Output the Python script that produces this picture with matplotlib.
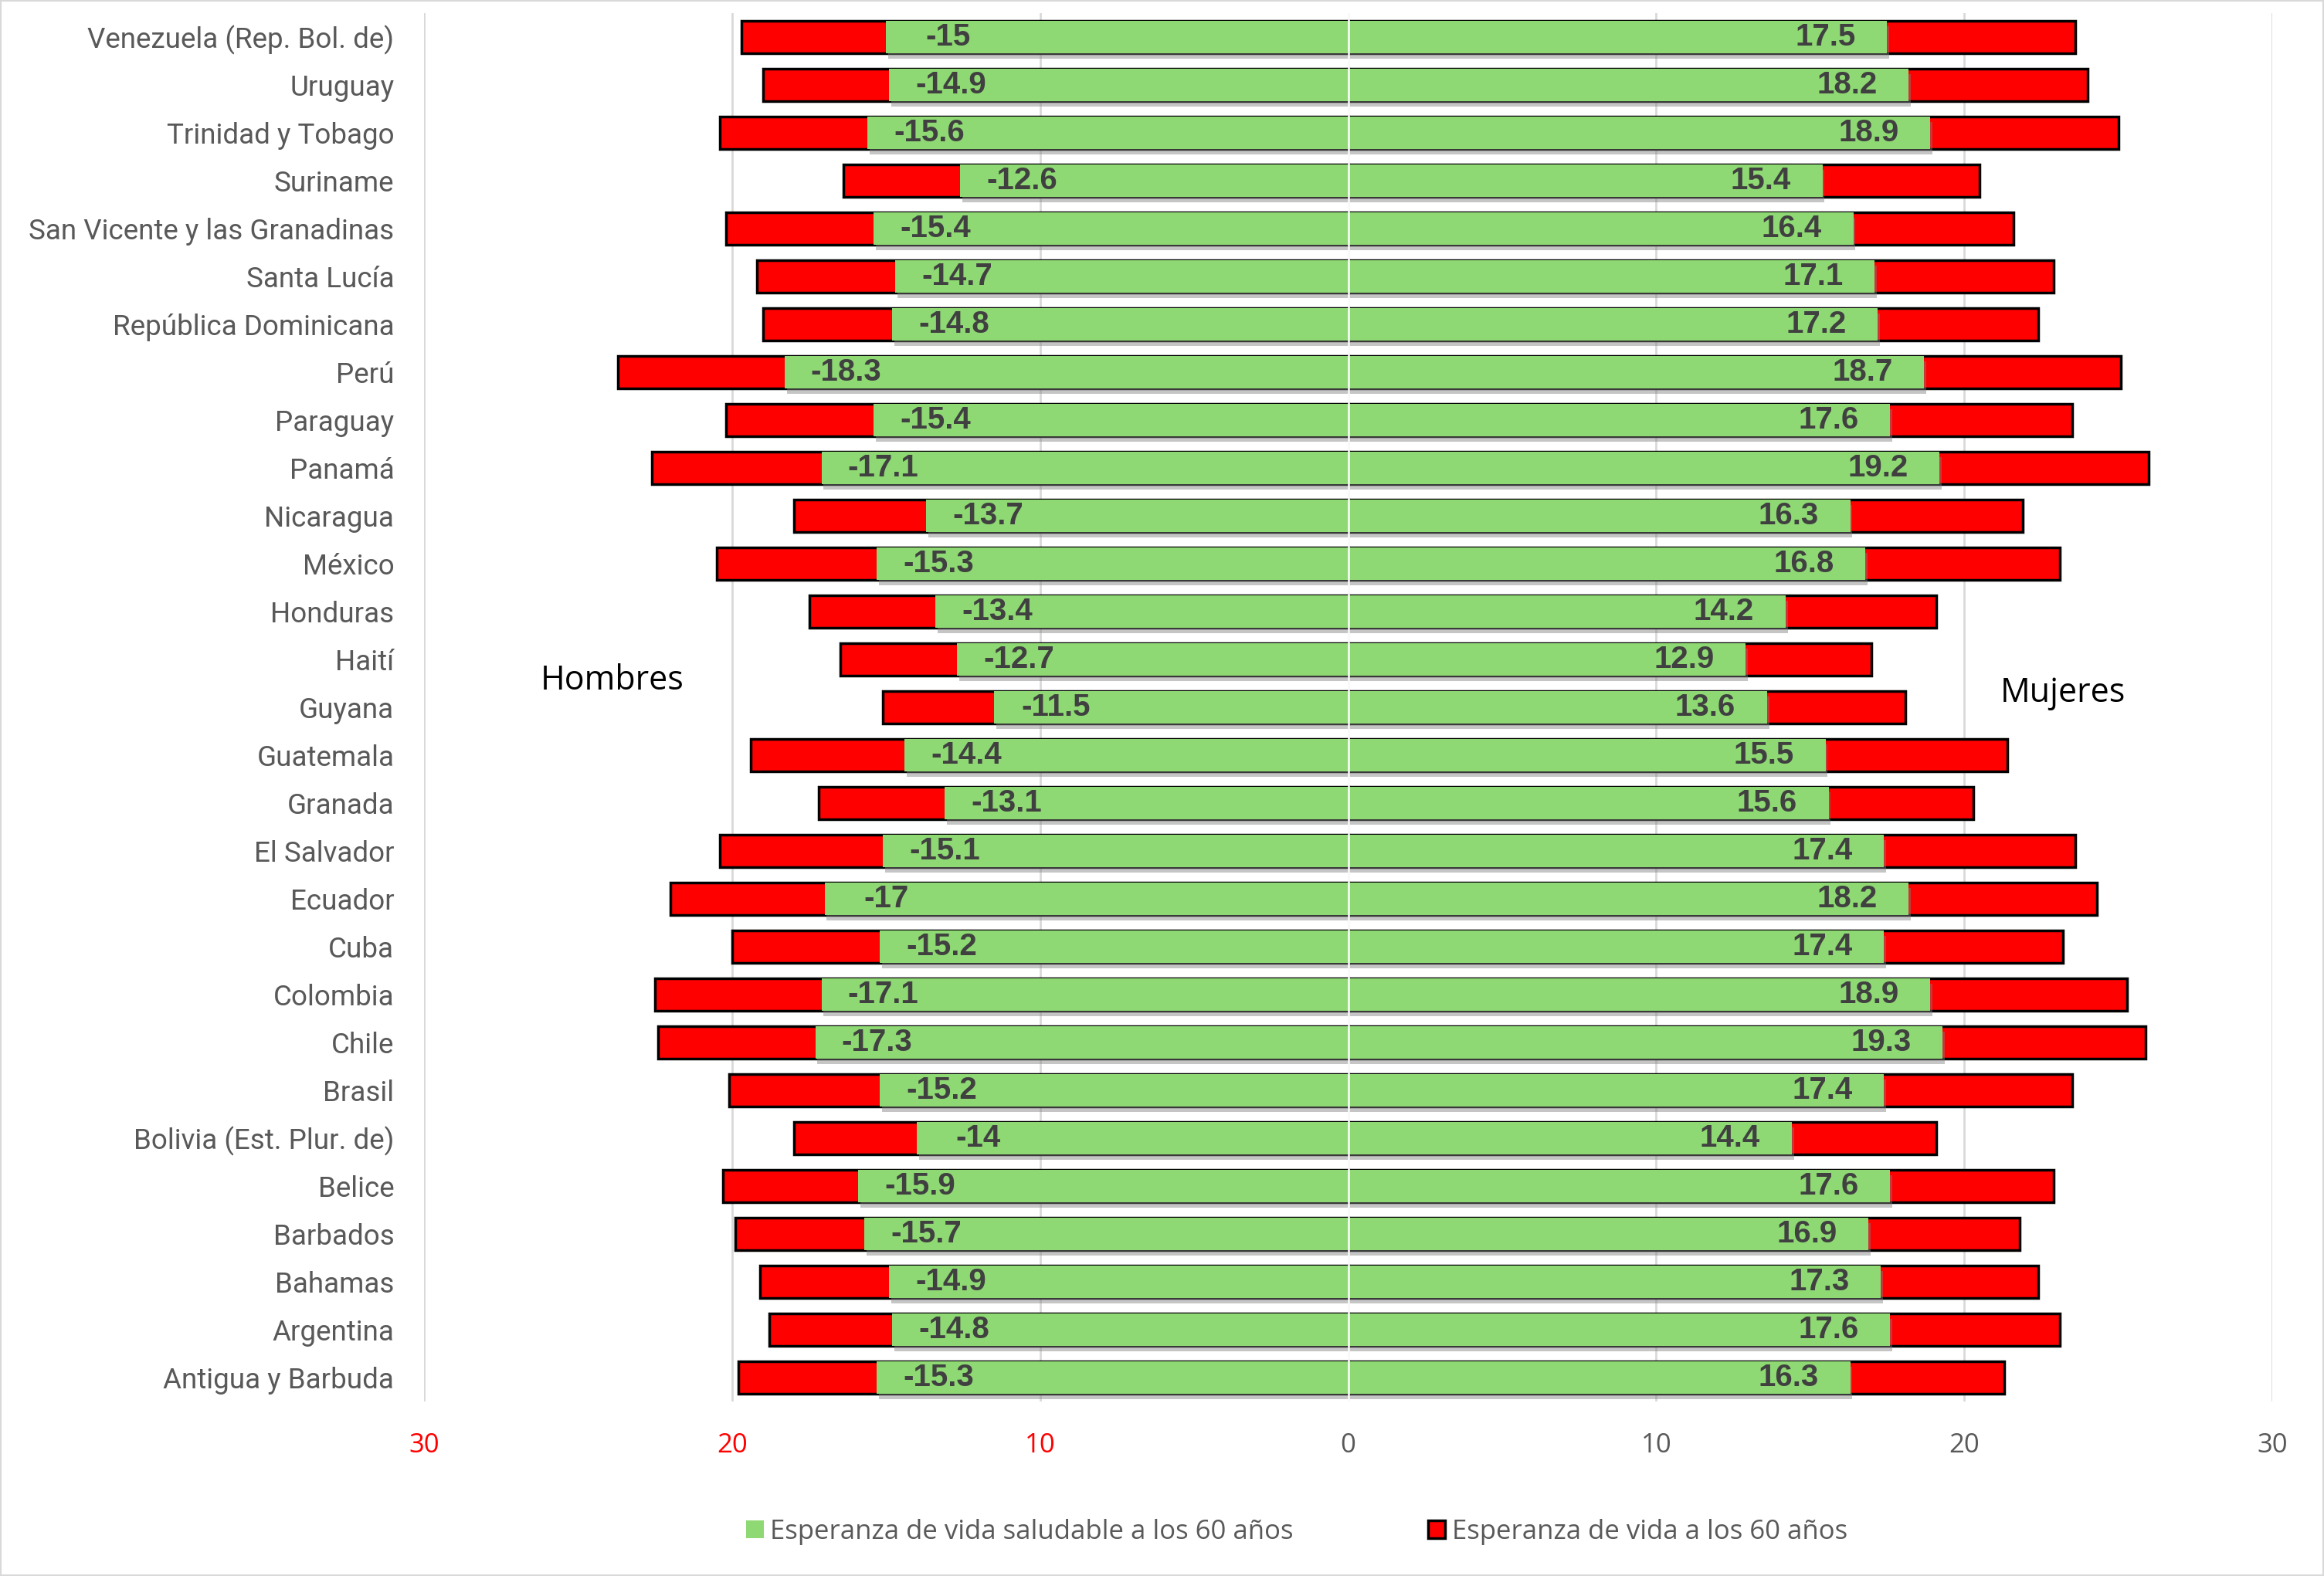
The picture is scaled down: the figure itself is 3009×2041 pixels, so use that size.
import numpy as np
import matplotlib.pyplot as plt
import matplotlib.patheffects as pe
from matplotlib.patches import Patch, Rectangle

# Datos: esperanza de vida a los 60 años (total y saludable), hombres y mujeres
paises = ["Venezuela (Rep. Bol. de)", "Uruguay", "Trinidad y Tobago", "Suriname",
          "San Vicente y las Granadinas", "Santa Lucía", "República Dominicana", "Perú",
          "Paraguay", "Panamá", "Nicaragua", "México", "Honduras", "Haití", "Guyana",
          "Guatemala", "Granada", "El Salvador", "Ecuador", "Cuba", "Colombia", "Chile",
          "Brasil", "Bolivia (Est. Plur. de)", "Belice", "Barbados", "Bahamas",
          "Argentina", "Antigua y Barbuda"]

hombres_saludable = [-15, -14.9, -15.6, -12.6, -15.4, -14.7, -14.8, -18.3, -15.4, -17.1,
                     -13.7, -15.3, -13.4, -12.7, -11.5, -14.4, -13.1, -15.1, -17, -15.2,
                     -17.1, -17.3, -15.2, -14, -15.9, -15.7, -14.9, -14.8, -15.3]
mujeres_saludable = [17.5, 18.2, 18.9, 15.4, 16.4, 17.1, 17.2, 18.7, 17.6, 19.2,
                     16.3, 16.8, 14.2, 12.9, 13.6, 15.5, 15.6, 17.4, 18.2, 17.4,
                     18.9, 19.3, 17.4, 14.4, 17.6, 16.9, 17.3, 17.6, 16.3]
hombres_total = [-19.7, -19.0, -20.4, -16.4, -20.2, -19.2, -19.0, -23.7, -20.2, -22.6,
                 -18.0, -20.5, -17.5, -16.5, -15.1, -19.4, -17.2, -20.4, -22.0, -20.0,
                 -22.5, -22.4, -20.1, -18.0, -20.3, -19.9, -19.1, -18.8, -19.8]
mujeres_total = [23.6, 24.0, 25.0, 20.5, 21.6, 22.9, 22.4, 25.1, 23.5, 26.0,
                 21.9, 23.1, 19.1, 17.0, 18.1, 21.4, 20.3, 23.6, 24.3, 23.2,
                 25.3, 25.9, 23.5, 19.1, 22.9, 21.8, 22.4, 23.1, 21.3]

ticks_x = [-30, -20, -10, 0, 10, 20, 30]

verde = '#8ed973'
rojo = '#ff0000'
gris = '#595959'

fuente_cat = ['Roboto', 'DejaVu Sans']
fuente_txt = ['Open Sans', 'DejaVu Sans']

fig = plt.figure(figsize=(30.09, 20.41), dpi=100)
ax = fig.add_axes([0.1825, 0.1107, 0.7952, 0.881])

y = np.arange(len(paises))
alto = 0.68

# Barras rojas (esperanza de vida total) detras
ax.barh(y, hombres_total, height=alto, color=rojo, edgecolor='black', linewidth=2.5, zorder=2)
ax.barh(y, mujeres_total, height=alto, color=rojo, edgecolor='black', linewidth=2.5, zorder=2)

# Barras verdes (esperanza de vida saludable) con sombra
sombra = [pe.SimplePatchShadow(offset=(2, -5), shadow_rgbFace='#7f7f7f', alpha=0.45), pe.Normal()]
b1 = ax.barh(y, hombres_saludable, height=alto, color=verde, linewidth=0, zorder=3)
b2 = ax.barh(y, mujeres_saludable, height=alto, color=verde, linewidth=0, zorder=3)
for p in list(b1) + list(b2):
    p.set_path_effects(sombra)

# linea del cero
ax.axvline(0, color='white', lw=1.8, zorder=5)

# etiquetas de datos
for i in range(len(paises)):
    h = hombres_saludable[i]
    m = mujeres_saludable[i]
    ax.text(h + 2.0, i, f"{h:g}", ha='center', va='center', fontsize=29,
            fontweight='bold', color='#404040', family='Liberation Sans', zorder=6)
    ax.text(m - 2.0, i, f"{m:g}", ha='center', va='center', fontsize=29,
            fontweight='bold', color='#404040', family='Liberation Sans', zorder=6)

ax.set_xlim(-30, 30)
ax.set_ylim(len(paises) - 0.5, -0.5)
ax.set_xticks(ticks_x)
ax.set_xticklabels([str(abs(t)) for t in ticks_x], fontsize=25, family=fuente_txt)
for t, lab in zip(ticks_x, ax.get_xticklabels()):
    lab.set_color(rojo if t < 0 else gris)
ax.set_yticks(y)
ax.set_yticklabels(paises, fontsize=26.5, color=gris, family=fuente_cat)
ax.tick_params(axis='both', length=0)
ax.tick_params(axis='x', pad=29)
ax.tick_params(axis='y', pad=28)
ax.grid(axis='x', color='#d9d9d9', lw=2, zorder=0)
ax.set_axisbelow(True)
for s in ax.spines.values():
    s.set_visible(False)

ax.text(-23.9, 13.45, "Hombres", ha='center', va='center', fontsize=31, color='black', family=fuente_txt)
ax.text(23.2, 13.7, "Mujeres", ha='center', va='center', fontsize=31, color='black', family=fuente_txt)

handles = [Patch(facecolor=verde, edgecolor='none', label='Esperanza de vida saludable a los 60 años'),
           Patch(facecolor=rojo, edgecolor='black', linewidth=2.5, label='Esperanza de vida a los 60 años')]
fig.legend(handles=handles, loc='center', bbox_to_anchor=(0.558, 0.028), ncol=2, frameon=False,
           prop={'family': fuente_txt, 'size': 25}, labelcolor=gris,
           handlelength=0.65, handleheight=0.65, handletextpad=0.25, columnspacing=5.0)

fig.patches.append(Rectangle((0, 0), 1, 1, transform=fig.transFigure, fill=False,
                             edgecolor='#d9d9d9', lw=3))

fig.savefig('out.png', dpi=100)
